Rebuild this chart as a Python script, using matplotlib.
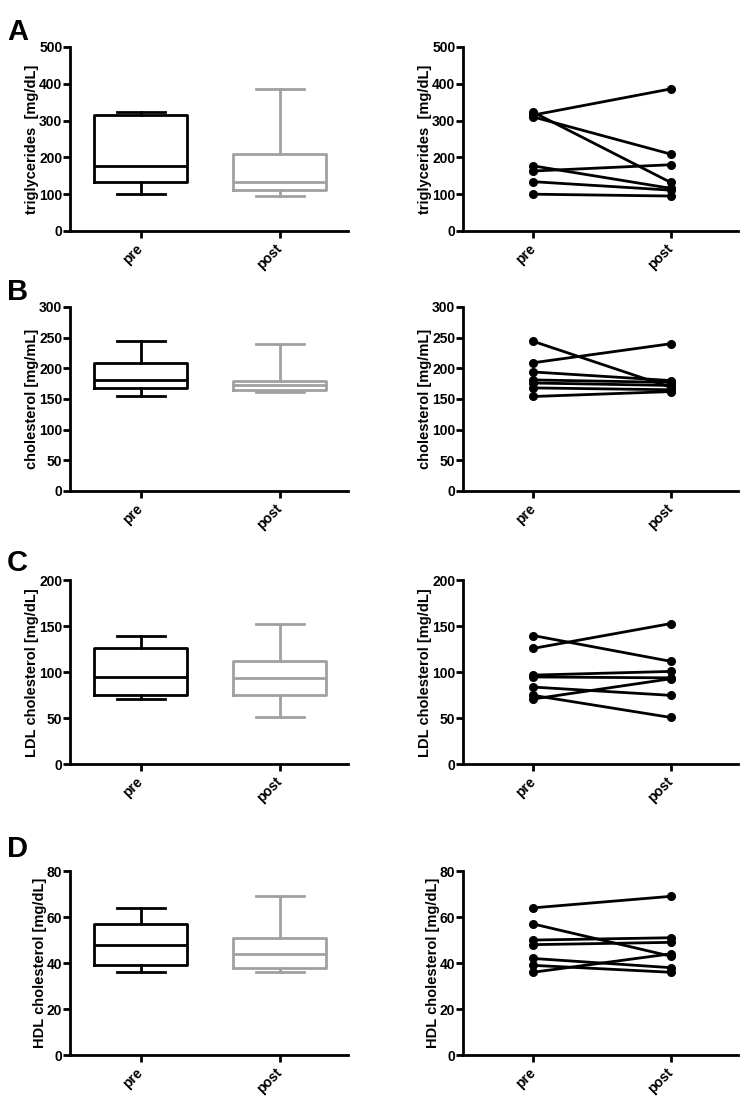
import numpy as np
import matplotlib
matplotlib.use("Agg")
import matplotlib.pyplot as plt

plt.rcParams['font.family'] = ['Liberation Sans', 'DejaVu Sans']
plt.rcParams['font.weight'] = 'bold'

categories = ["pre", "post"]

tg_pre = [323, 315, 310, 177, 163, 134, 100]
tg_post = [132, 386, 209, 116, 180, 111, 95]

chol_pre = [244, 209, 194, 181, 176, 168, 154]
chol_post = [169, 240, 180, 177, 172, 165, 162]

ldl_pre = [140, 126, 97, 95, 84, 75, 71]
ldl_post = [112, 153, 101, 94, 75, 51, 93]

hdl_pre = [64, 57, 50, 48, 42, 39, 36]
hdl_post = [69, 43, 51, 49, 38, 36, 44]

panels = [
    ("A", "triglycerides  [mg/dL]", tg_pre, tg_post, 500, 100),
    ("B", "cholesterol [mg/mL]", chol_pre, chol_post, 300, 50),
    ("C", "LDL cholesterol [mg/dL]", ldl_pre, ldl_post, 200, 50),
    ("D", "HDL cholesterol [mg/dL]", hdl_pre, hdl_post, 80, 20),
]

fig = plt.figure(figsize=(7.5, 11.1), dpi=100)

row_bottoms = [0.7919, 0.5577, 0.3114, 0.0495]
letter_offsets = [29, 29, 31, 36]
h = 184 / 1110
lw = 2.0
gray = "#a0a0a0"


def box_stats(vals, label):
    q1, med, q3 = np.percentile(vals, [25, 50, 75], method="weibull")
    return dict(med=med, q1=q1, q3=q3, whislo=min(vals), whishi=max(vals),
                fliers=[], label=label)


def style_axes(ax, ymax, ystep, ylabel):
    ax.set_ylim(0, ymax)
    ax.set_xlim(-0.51, 1.49)
    ax.set_yticks(np.arange(0, ymax + 1, ystep))
    ax.spines['top'].set_visible(False)
    ax.spines['right'].set_visible(False)
    for s in ('left', 'bottom'):
        ax.spines[s].set_linewidth(lw)
    ax.tick_params(axis='both', width=lw, length=5, direction='out', labelsize=10)
    ax.tick_params(axis='y', pad=0.5)
    ax.set_xticks([0, 1])
    ax.set_xticklabels(categories, rotation=45, ha='right', va='center',
                       rotation_mode='anchor', fontweight='bold')
    ax.tick_params(axis='x', pad=6)
    for t in ax.get_yticklabels():
        t.set_fontweight('bold')
    ax.set_ylabel(ylabel, fontsize=10.5, fontweight='bold', labelpad=0)
    ax.patch.set_visible(False)


for i, (letter, ylabel, pre, post, ymax, ystep) in enumerate(panels):
    b = row_bottoms[i]
    axl = fig.add_axes([70 / 750, b, 278 / 750, h])
    axr = fig.add_axes([463 / 750, b, 275 / 750, h])

    stats = [box_stats(pre, categories[0]), box_stats(post, categories[1])]
    for j, (st, col) in enumerate(zip(stats, ["black", gray])):
        axl.bxp([st], positions=[j], widths=0.67, capwidths=0.35,
                showfliers=False, manage_ticks=False,
                boxprops=dict(color=col, linewidth=lw),
                whiskerprops=dict(color=col, linewidth=lw),
                capprops=dict(color=col, linewidth=lw),
                medianprops=dict(color=col, linewidth=lw))
    style_axes(axl, ymax, ystep, ylabel)

    for p, q in zip(pre, post):
        axr.plot([0, 1], [p, q], color='black', linewidth=lw,
                 marker='o', markersize=5.5, clip_on=False)
    style_axes(axr, ymax, ystep, ylabel)

    top_px = 1110 * (1 - (b + h))
    fig.text(7 / 750, 1 - (top_px - letter_offsets[i]) / 1110, letter,
             fontsize=21, fontweight='bold', ha='left', va='top')

fig.savefig("out.png", dpi=100)
